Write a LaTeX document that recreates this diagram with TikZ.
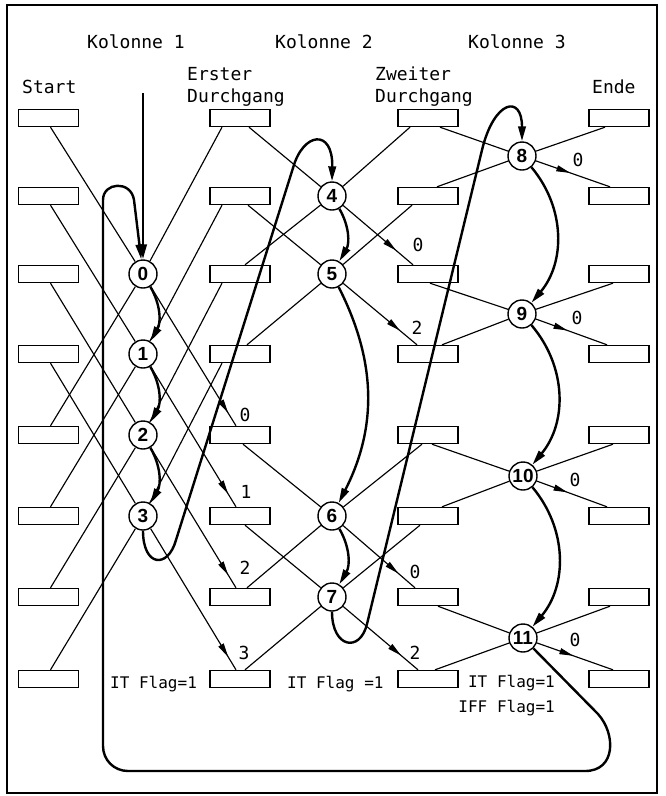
\documentclass[tikz,border=0pt]{standalone}
\usepackage{fontspec}
\setmainfont{DejaVu Sans}
\newfontfamily\labelfont{DejaVu Sans Mono}
\newfontfamily\digitfont{Liberation Sans}
\usetikzlibrary{arrows.meta,decorations.markings,calc}

\begin{document}
\begin{tikzpicture}[x=1pt,y=-1pt,
  cell/.style={draw, line width=1.4pt, minimum width=60pt, minimum height=17pt, inner sep=0pt},
  bf/.style={circle, draw, line width=1.4pt, minimum size=28pt, inner sep=0pt, fill=white,
             font=\digitfont\bfseries\fontsize{19}{19}\selectfont},
  wire/.style={line width=1.15pt},
  tipat/.style={postaction={decorate},
    decoration={markings, mark=at position -#1 with {\arrow{Triangle[length=14pt,width=6pt]}}}},
  flow/.style={line width=2.4pt, -{Triangle[length=15pt,width=7.5pt]}},
  head/.style={font=\labelfont\fontsize{18}{24}\selectfont, anchor=base west, inner sep=0pt},
  flag/.style={font=\labelfont\fontsize{16}{20}\selectfont, anchor=base west, inner sep=0pt},
  num/.style={font=\labelfont\fontsize{18}{18}\selectfont, inner sep=0pt},
]
\useasboundingbox (0,0) rectangle (665,796);
\draw[line width=1.2pt] (7,5) rectangle (657,793);

% registers: Start, first pass, second pass, end
\foreach \r/\y in {0/118,1/196,2/274,3/354,4/435,5/516,6/597,7/679} {
  \node[cell] (a\r) at (48.5,\y) {};
  \node[cell] (b\r) at (240,\y) {};
  \node[cell] (c\r) at (428,\y) {};
  \node[cell] (d\r) at (619,\y) {};
}

% butterfly nodes
\node[bf] (n0) at (143,274) {0};
\node[bf] (n1) at (143,354) {1};
\node[bf] (n2) at (143,435) {2};
\node[bf] (n3) at (143,516) {3};
\node[bf] (n4) at (332,196) {4};
\node[bf] (n5) at (332,274) {5};
\node[bf] (n6) at (332,516) {6};
\node[bf] (n7) at (332,597) {7};
\node[bf] (n8) at (522,156) {8};
\node[bf] (n9) at (522,314) {9};
\node[bf] (n10) at (523,476) {10};
\node[bf] (n11) at (523,638) {11};

% column 1
\foreach \k in {0,...,3} {
  \pgfmathtruncatemacro\m{\k+4}
  \draw[wire] ([xshift=2pt]a\k.south) -- (n\k);
  \draw[wire] ([xshift=2pt]a\m.north) -- (n\k);
  \draw[wire] (n\k) -- ([xshift=-18pt]b\k.south);
  \draw[wire, tipat=15pt] (n\k) -- ([xshift=-4pt]b\m.north);
}
\node[num] at (245,415) {0};
\node[num] at (246,492) {1};
\node[num] at (245,568) {2};
\node[num] at (244,653) {3};

% column 2
\draw[wire] ([xshift=9pt]b0.south) -- (n4);
\draw[wire] ([xshift=5pt]b2.north) -- (n4);
\draw[wire] (n4) -- ([xshift=-18pt]c0.south);
\draw[wire, tipat=22pt] (n4) -- ([xshift=-15pt]c2.north);
\draw[wire] ([xshift=8pt]b1.south) -- (n5);
\draw[wire] ([xshift=7pt]b3.north) -- (n5);
\draw[wire] (n5) -- ([xshift=-16pt]c1.south);
\draw[wire, tipat=22pt] (n5) -- ([xshift=-11pt]c3.north);
\draw[wire] ([xshift=3pt]b4.south) -- (n6);
\draw[wire] ([xshift=7pt]b6.north) -- (n6);
\draw[wire] (n6) -- ([xshift=-6pt]c4.south);
\draw[wire, tipat=22pt] (n6) -- ([xshift=-13pt]c6.north);
\draw[wire] ([xshift=5pt]b5.south) -- (n7);
\draw[wire] ([xshift=5pt]b7.north) -- (n7);
\draw[wire] (n7) -- ([xshift=-8pt]c5.south);
\draw[wire, tipat=22pt] (n7) -- ([xshift=-10pt]c7.north);
\node[num] at (418,245) {0};
\node[num] at (417,328) {2};
\node[num] at (415,572) {0};
\node[num] at (415,653) {2};

% column 3
\draw[wire] ([xshift=12pt]c0.south) -- (n8);
\draw[wire] ([xshift=9pt]c1.north) -- (n8);
\draw[wire] (n8) -- ([xshift=-14pt]d0.south);
\draw[wire, tipat=42pt] (n8) -- ([xshift=-9pt]d1.north);
\draw[wire] ([xshift=2pt]c2.south) -- (n9);
\draw[wire] ([xshift=14pt]c3.north) -- (n9);
\draw[wire] (n9) -- ([xshift=-6pt]d2.south);
\draw[wire, tipat=42pt] (n9) -- ([xshift=-12pt]d3.north);
\draw[wire] ([xshift=4pt]c4.south) -- (n10);
\draw[wire] ([xshift=14pt]c5.north) -- (n10);
\draw[wire] (n10) -- ([xshift=-6pt]d4.south);
\draw[wire, tipat=42pt] (n10) -- ([xshift=-12pt]d5.north);
\draw[wire] ([xshift=10pt]c6.south) -- (n11);
\draw[wire] ([xshift=7pt]c7.north) -- (n11);
\draw[wire] (n11) -- ([xshift=-9pt]d6.south);
\draw[wire, tipat=42pt] (n11) -- ([xshift=-6pt]d7.north);
\node[num] at (578,160) {0};
\node[num] at (577,318) {0};
\node[num] at (575,480) {0};
\node[num] at (575,640) {0};

% processing order
\coordinate (feed) at (143,93);
\draw[flow] (feed) -- (n0);
\draw[flow] (n0) to[bend left=30] (n1);
\draw[flow] (n1) to[bend left=30] (n2);
\draw[flow] (n2) to[bend left=30] (n3);
\draw[flow] (n3.south) .. controls (143,567) and (168,569) .. (176,540)
  -- (293,168) .. controls (303,132) and (333,128) .. (n4.north);
\draw[flow] (n4) to[bend left=30] (n5);
\draw[flow] (n5) to[bend left=27] (n6);
\draw[flow] (n6) to[bend left=30] (n7);
\draw[flow] (n7.south) .. controls (332,648) and (360,653) .. (367,624)
  -- (482,150) .. controls (494,100) and (522,94) .. (n8.north);
\draw[flow] (n8) to[bend left=40] (n9);
\draw[flow] (n9) to[bend left=40] (n10);
\draw[flow] (n10) to[bend left=40] (n11);
\draw[flow] (n11.-45) -- (598,714) .. controls (616,734) and (616,771) .. (585,771)
  -- (128,771) .. controls (114,771) and (103,760) .. (103,746)
  -- (103,200) .. controls (103,182) and (131,180) .. (134,200) -- (n0);

% headings
\node[head] (k1) at (87,48) {Kolonne 1};
\node[head] (k2) at (275,48) {Kolonne 2};
\node[head] (k3) at (468,48) {Kolonne 3};
\node[head] (st) at (22,93) {Start};
\node[head] (e1) at (187,80) {Erster};
\node[head] (e2) at (187,102) {Durchgang};
\node[head] (z1) at (375,80) {Zweiter};
\node[head] (z2) at (375,102) {Durchgang};
\node[head] (en) at (592,93) {Ende};

% flags
\node[flag] (f1) at (110,688) {IT Flag=1};
\node[flag] (f2) at (287,688) {IT Flag =1};
\node[flag, anchor=base east] (f3) at (555,687) {IT Flag=1};
\node[flag, anchor=base east] (f4) at (555,712) {IFF Flag=1};
\end{tikzpicture}
\end{document}
